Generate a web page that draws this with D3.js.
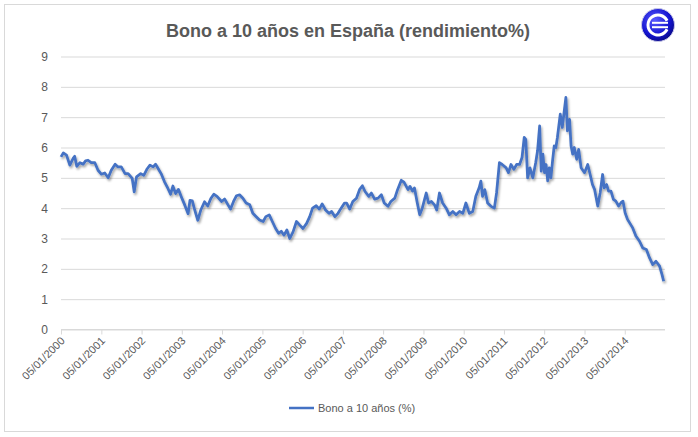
<!DOCTYPE html>
<html><head><meta charset="utf-8">
<script src="https://cdn.jsdelivr.net/npm/d3@7/dist/d3.min.js"></script>
<style>body{margin:0;background:#fff}svg{display:block}text{font-family:"Liberation Sans",Arial,sans-serif}</style>
</head><body><svg id="c" width="698" height="437"></svg>
<script>
const title = "Bono a 10 años en España (rendimiento%)";
const seriesName = "Bono a 10 años (%)";
const yTicks = [0,1,2,3,4,5,6,7,8,9];
const tickYears = [2000,2001,2002,2003,2004,2005,2006,2007,2008,2009,2010,2011,2012,2013,2014];
const dates = [
"2000-01-05","2000-01-26","2000-02-24","2000-03-25","2000-04-24","2000-05-08","2000-05-27","2000-06-25","2000-07-24","2000-08-15","2000-09-06","2000-10-05","2000-11-07","2000-12-06",
"2001-01-05","2001-02-05","2001-03-08","2001-04-05","2001-05-10","2001-06-05","2001-07-05","2001-08-08","2001-09-05","2001-10-12","2001-10-30","2001-11-20","2001-12-28",
"2002-01-25","2002-02-25","2002-03-22","2002-04-20","2002-05-12","2002-06-05","2002-07-01","2002-08-01","2002-09-01","2002-09-25","2002-10-16","2002-11-10","2002-12-05",
"2003-01-01","2003-02-01","2003-03-03","2003-03-20","2003-04-10","2003-04-28","2003-05-30","2003-06-25","2003-07-30","2003-08-28","2003-09-25","2003-10-22","2003-11-20",
"2004-01-01","2004-01-28","2004-02-28","2004-03-22","2004-04-18","2004-05-15","2004-06-12","2004-07-12","2004-08-10","2004-09-12","2004-10-10","2004-11-10","2004-12-10",
"2005-01-12","2005-02-05","2005-03-08","2005-04-05","2005-05-05","2005-06-01","2005-06-25","2005-07-20","2005-08-15","2005-09-10","2005-10-10","2005-11-10","2005-12-10",
"2006-01-08","2006-02-10","2006-03-10","2006-04-05","2006-05-08","2006-06-05","2006-07-01","2006-08-01","2006-09-01","2006-09-25","2006-10-25","2006-11-22","2006-12-20",
"2007-01-20","2007-02-08","2007-03-08","2007-04-05","2007-05-08","2007-06-05","2007-07-01","2007-07-25","2007-08-28","2007-09-20","2007-10-20","2007-11-20","2007-12-20",
"2008-01-15","2008-02-18","2008-03-15","2008-04-20","2008-05-15","2008-06-18","2008-07-12","2008-08-18","2008-09-05","2008-09-28","2008-10-15","2008-11-10","2008-12-02","2008-12-25",
"2009-01-30","2009-02-20","2009-03-18","2009-04-15","2009-05-05","2009-05-30","2009-06-28","2009-07-30","2009-08-28","2009-09-28","2009-10-28","2009-11-28","2009-12-28",
"2010-01-25","2010-02-25","2010-03-28","2010-04-25","2010-05-25","2010-06-10","2010-06-25","2010-07-15","2010-08-10","2010-09-10","2010-10-10","2010-10-30","2010-11-25","2010-12-20",
"2011-01-25","2011-02-15","2011-03-10","2011-04-05","2011-04-30","2011-05-27","2011-06-18","2011-07-08","2011-07-22","2011-08-08","2011-08-29","2011-09-24","2011-10-20","2011-11-06","2011-11-25","2011-12-09","2011-12-24",
"2012-01-08","2012-01-22","2012-02-06","2012-02-20","2012-03-06","2012-03-21","2012-04-05","2012-04-20","2012-05-04","2012-05-30","2012-06-17","2012-07-20","2012-08-03","2012-08-22","2012-09-05","2012-09-20","2012-10-04","2012-10-26","2012-11-13","2012-12-05",
"2013-01-05","2013-02-03","2013-02-25","2013-03-18","2013-04-06","2013-05-05","2013-05-27","2013-06-18","2013-07-02","2013-07-24","2013-08-11","2013-09-02","2013-09-24","2013-10-16","2013-11-10","2013-12-02","2013-12-20",
"2014-01-08","2014-01-30","2014-03-18","2014-04-16","2014-05-19","2014-06-17","2014-07-20","2014-08-18","2014-09-16","2014-10-15","2014-11-17","2014-12-09","2014-12-24"
];
const yields = [
5.69,5.82,5.75,5.42,5.64,5.71,5.38,5.50,5.45,5.56,5.58,5.50,5.50,5.25,
5.12,5.16,5.00,5.25,5.45,5.36,5.36,5.14,5.14,4.98,4.54,5.03,5.14,
5.08,5.30,5.42,5.36,5.45,5.30,5.14,4.87,4.65,4.46,4.73,4.48,4.62,
4.37,4.10,3.82,4.26,4.24,3.99,3.60,3.93,4.21,4.07,4.32,4.46,4.39,
4.22,4.30,4.11,3.97,4.22,4.41,4.44,4.33,4.17,4.11,3.83,3.72,3.61,
3.56,3.72,3.78,3.56,3.33,3.17,3.24,3.11,3.28,3.00,3.22,3.56,3.44,
3.33,3.50,3.72,4.00,4.08,3.97,4.14,3.94,3.83,3.89,3.72,3.83,4.00,
4.17,4.17,3.97,4.22,4.33,4.61,4.74,4.55,4.39,4.50,4.30,4.33,4.44,
4.17,4.06,4.22,4.33,4.61,4.92,4.86,4.61,4.72,4.56,4.67,4.17,3.78,4.00,
4.50,4.17,4.22,4.11,3.94,4.50,4.17,4.00,3.78,3.89,3.78,3.89,3.83,
4.17,3.83,3.89,4.39,4.67,4.89,4.39,4.61,4.17,4.06,4.00,4.50,5.50,5.44,
5.33,5.17,5.44,5.28,5.44,5.44,5.67,6.33,6.27,5.00,5.33,5.00,5.50,5.89,6.71,5.22,5.78,
5.17,5.44,4.90,5.33,5.00,5.56,6.05,6.00,6.33,7.10,6.66,7.65,6.55,6.93,6.05,5.78,6.00,5.61,5.94,5.33,
5.17,5.44,5.11,4.78,4.62,4.07,4.51,5.11,4.67,4.78,4.56,4.56,4.29,4.23,4.07,4.18,4.23,
3.85,3.63,3.35,3.08,2.91,2.69,2.64,2.36,2.14,2.25,2.09,1.81,1.59
];

const parse = d3.timeParse("%Y-%m-%d");
const fmt = d3.timeFormat("%d/%m/%Y");
const data = dates.map((d,i)=>({date:parse(d), v:yields[i]}));
const svg = d3.select("#c");
const grey = "#595959";

svg.append("rect").attr("x",4.5).attr("y",4.5).attr("width",686).attr("height",427)
  .attr("fill","#fff").attr("stroke","#d9d9d9");

const x = d3.scaleTime().domain([new Date(2000,0,5), new Date(2015,0,5)]).range([61,665]);
const y = d3.scaleLinear().domain([0,9]).range([329.5,56.5]);

// gridlines
svg.append("g").attr("transform","translate(61,0)")
  .call(d3.axisLeft(y).tickValues(yTicks).tickSize(-604).tickFormat(d3.format("d")).tickPadding(13))
  .call(g=>{g.select(".domain").remove();
    g.selectAll("line").attr("stroke","#d9d9d9");
    g.selectAll("text").attr("fill",grey).style("font-size","12px");});

// x axis
const xTicks = tickYears.map(yr=>new Date(yr,0,5));
svg.append("g").attr("transform","translate(0,329.5)")
  .call(d3.axisBottom(x).tickValues(xTicks).tickSize(5).tickFormat(fmt))
  .call(g=>{g.select(".domain").attr("stroke","#d9d9d9").attr("d","M61,0H665");
    g.selectAll("line").attr("stroke","#d9d9d9");
    g.selectAll("text").attr("fill",grey).style("font-size","11px")
      .attr("text-anchor","end").attr("dy",null).attr("y",0)
      .attr("transform","translate(4,12) rotate(-45)");});

// shadow filter
const defs = svg.append("defs");
const f = defs.append("filter").attr("id","sh").attr("x","-5%").attr("y","-5%").attr("width","110%").attr("height","120%");
f.append("feDropShadow").attr("dx",1.2).attr("dy",2).attr("stdDeviation",1.2)
  .attr("flood-color","#000").attr("flood-opacity",0.35);

const line = d3.line().x(d=>x(d.date)).y(d=>y(d.v));
svg.append("path").datum(data).attr("d",line).attr("fill","none")
  .attr("stroke","#4472c4").attr("stroke-width",2.75).attr("stroke-linejoin","round")
  .attr("filter","url(#sh)");

// title
svg.append("text").attr("x",348).attr("y",37).attr("text-anchor","middle")
  .attr("fill",grey).style("font-size","18px").style("font-weight","bold").text(title);

// legend
svg.append("line").attr("x1",289).attr("x2",314).attr("y1",408).attr("y2",408)
  .attr("stroke","#4472c4").attr("stroke-width",2.5);
svg.append("text").attr("x",318).attr("y",412).attr("fill",grey).style("font-size","11px").text(seriesName);

// logo
const rg = defs.append("radialGradient").attr("id","lg").attr("cx","40%").attr("cy","35%").attr("r","65%");
rg.append("stop").attr("offset","0%").attr("stop-color","#5a5aff");
rg.append("stop").attr("offset","70%").attr("stop-color","#1414d0");
rg.append("stop").attr("offset","100%").attr("stop-color","#0a0a90");
const lg = svg.append("g").attr("transform","translate(658,25)");
lg.append("circle").attr("r",16.5).attr("fill","url(#lg)").attr("stroke","#c8c8e8").attr("stroke-width",1);
lg.append("path").attr("d",d3.arc()({innerRadius:8.5,outerRadius:11.5,startAngle:Math.PI*0.64,endAngle:Math.PI*2.36}))
  .attr("fill","#fff");
lg.append("rect").attr("x",-6).attr("y",-3.2).attr("width",16).attr("height",2).attr("fill","#fff");
lg.append("rect").attr("x",-6).attr("y",1.2).attr("width",16).attr("height",2).attr("fill","#fff");
</script></body></html>
